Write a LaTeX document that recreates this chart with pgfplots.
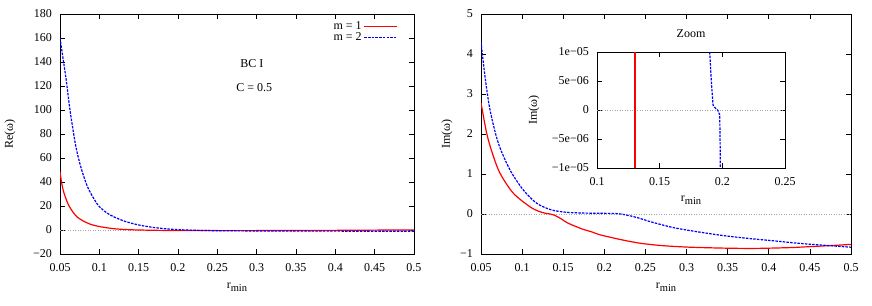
\documentclass[border=0pt]{standalone}
\usepackage{fontspec}
\setmainfont{Liberation Serif}
\usepackage{pgfplots}
\pgfplotsset{compat=1.18}
\newcommand{\rmin}{r\raisebox{-0.45ex}{\fontsize{10.5}{11}\selectfont min}}
\newcommand{\fs}{\fontsize{12}{14}\selectfont}

\begin{document}
\fs
\begin{tikzpicture}[x=1pt,y=1pt]
\useasboundingbox (0,0) rectangle (872,305);
\pgfplotsset{
  myaxis/.style={
    scale only axis,
    axis line style={line width=0.9pt},
    tick align=inside,
    major tick length=5pt,
    tick style={line width=0.8pt, black},
    xticklabel style={yshift=-5pt, font=\fs},
    yticklabel style={xshift=-4pt, font=\fs},
    label style={font=\fs},
    scaled ticks=false,
    axis background/.style={fill=white},
  },
  zeroline/.style={gray!70, dotted, line width=0.5pt},
  m1/.style={red, line width=1.2pt},
  m2/.style={blue, line width=1.2pt, dash pattern=on 2.5pt off 1.2pt},
}

% ---------------- left: Re(omega)
\begin{axis}[myaxis, at={(60pt,51pt)}, anchor=south west,
  width=354pt, height=240pt,
  xmin=0.05, xmax=0.5, ymin=-20, ymax=180,
  xtick={0.05,0.1,0.15,0.2,0.25,0.3,0.35,0.4,0.45,0.5},
  xticklabels={0.05,0.1,0.15,0.2,0.25,0.3,0.35,0.4,0.45,0.5},
  ytick={-20,0,20,40,60,80,100,120,140,160,180},
  yticklabels={−20,0,20,40,60,80,100,120,140,160,180},
  xlabel={\rmin}, ylabel={Re(ω)},
  xlabel style={at={(axis description cs:0.5,0)}, anchor=center, yshift=-33pt},
  ylabel style={at={(axis description cs:0,0.5)}, anchor=center, yshift=50pt},
  legend style={at={(0.958,1.016)}, anchor=north east, draw=none, fill=none,
    font=\fs, row sep=-3pt, inner sep=1pt, text=black},
  legend plot pos=right, legend cell align=right,
  legend image code/.code={\path[#1] (0pt,0pt) -- (33pt,0pt);},
]
\addplot[zeroline, forget plot] coordinates {(0.05,0) (0.5,0)};
\addplot[m1, smooth, forget plot] coordinates {
(0.05,48.6) (0.052,39.5) (0.055,31) (0.06,22) (0.065,16.3) (0.07,12.0)
(0.075,9.3) (0.08,7.3) (0.09,4.5) (0.1,2.9) (0.11,1.8) (0.12,1.0) (0.13,0.5)
(0.14,0.2) (0.15,0.0) (0.175,-0.3) (0.2,-0.4) (0.25,-0.5) (0.3,-0.5) (0.35,-0.4)
(0.4,-0.3) (0.45,-0.1) (0.5,0.1)};
\addplot[m2, smooth, forget plot] coordinates {
(0.05,160) (0.0525,149) (0.055,138) (0.0575,127) (0.06,114) (0.0625,101)
(0.065,90) (0.07,70) (0.075,56) (0.08,45) (0.085,36) (0.09,29.5)
(0.095,24) (0.1,19.5) (0.11,14) (0.12,10.5) (0.13,7.8) (0.14,5.8)
(0.15,4.2) (0.16,3.0) (0.17,2.0) (0.18,1.3) (0.19,0.7) (0.2,0.3) (0.21,0)
(0.225,-0.3) (0.25,-0.6) (0.3,-0.8) (0.35,-0.9) (0.4,-0.95) (0.45,-1.0) (0.5,-1.0)};
\addlegendimage{draw=none}
\addlegendentry{\phantom{m}}
\addlegendimage{draw=red, line width=1.2pt, solid}
\addlegendentry{m = 1}
\addlegendimage{draw=blue, line width=1.2pt, dash pattern=on 2.5pt off 1.2pt}
\addlegendentry{m = 2}
\node[anchor=west, font=\fs] at (axis cs:0.274,139) {BC I};
\node[anchor=west, font=\fs] at (axis cs:0.269,119) {C = 0.5};
\end{axis}

% ---------------- right: Im(omega)
\begin{axis}[myaxis, at={(481pt,51pt)}, anchor=south west,
  width=370pt, height=240pt,
  xmin=0.05, xmax=0.5, ymin=-1, ymax=5,
  xtick={0.05,0.1,0.15,0.2,0.25,0.3,0.35,0.4,0.45,0.5},
  xticklabels={0.05,0.1,0.15,0.2,0.25,0.3,0.35,0.4,0.45,0.5},
  ytick={-1,0,1,2,3,4,5},
  yticklabels={−1,0,1,2,3,4,5},
  xlabel={\rmin}, ylabel={Im(ω)},
  xlabel style={at={(axis description cs:0.5,0)}, anchor=center, yshift=-33pt},
  ylabel style={at={(axis description cs:0,0.5)}, anchor=center, yshift=34pt},
]
\addplot[zeroline, forget plot] coordinates {(0.05,0) (0.5,0)};
\addplot[m1, smooth] coordinates {
(0.05,2.78) (0.0569,2.02) (0.0638,1.52) (0.0731,1.02) (0.0893,0.52)
(0.1096,0.18) (0.12,0.07) (0.1279,0.02) (0.134,0.0) (0.138,-0.02) (0.145,-0.09)
(0.156,-0.23) (0.1725,-0.37) (0.185,-0.45) (0.1948,-0.52) (0.22,-0.64)
(0.2434,-0.73) (0.27,-0.79) (0.304,-0.83) (0.35,-0.855) (0.385,-0.86)
(0.426,-0.84) (0.446,-0.82) (0.475,-0.79) (0.5,-0.76)};
\addplot[m2, smooth] coordinates {
(0.05,4.3) (0.0549,3.43) (0.061,2.6) (0.0711,1.77) (0.0853,1.1)
(0.1015,0.6) (0.1177,0.27) (0.136,0.1) (0.156,0.04) (0.1826,0.02)
(0.215,0.01) (0.23,-0.04) (0.2434,-0.11) (0.2556,-0.19) (0.284,-0.34)
(0.315,-0.45) (0.345,-0.54) (0.375,-0.61) (0.4056,-0.67) (0.435,-0.73)
(0.466,-0.78) (0.5,-0.83)};
\end{axis}

% ---------------- inset: Zoom
\begin{axis}[myaxis, at={(597pt,137pt)}, anchor=south west,
  width=188pt, height=116pt,
  xmin=0.1, xmax=0.25, ymin=-1e-5, ymax=1e-5,
  xtick={0.1,0.15,0.2,0.25},
  xticklabels={0.1,0.15,0.2,0.25},
  ytick={-1e-5,-5e-6,0,5e-6,1e-5},
  yticklabels={−1e−05,−5e−06,0,5e−06,1e−05},
  title={Zoom}, title style={at={(axis description cs:0.5,1)}, anchor=center, yshift=12pt, font=\fs},
  xlabel={\rmin}, ylabel={Im(ω)},
  xlabel style={at={(axis description cs:0.5,0)}, anchor=center, yshift=-32pt},
  ylabel style={at={(axis description cs:0,0.5)}, anchor=center, yshift=63pt},
]
\addplot[zeroline, forget plot] coordinates {(0.1,0) (0.25,0)};
\addplot[m1] coordinates {(0.1303,-1e-5) (0.1303,1e-5)};
\addplot[m2] coordinates {
(0.1899,1e-5) (0.1915,4e-6) (0.1926,8.6e-7) (0.1945,3e-7) (0.1963,0)
(0.1979,-8.6e-7) (0.1982,-5e-6) (0.1984,-1e-5)};
\end{axis}
\end{tikzpicture}
\end{document}
